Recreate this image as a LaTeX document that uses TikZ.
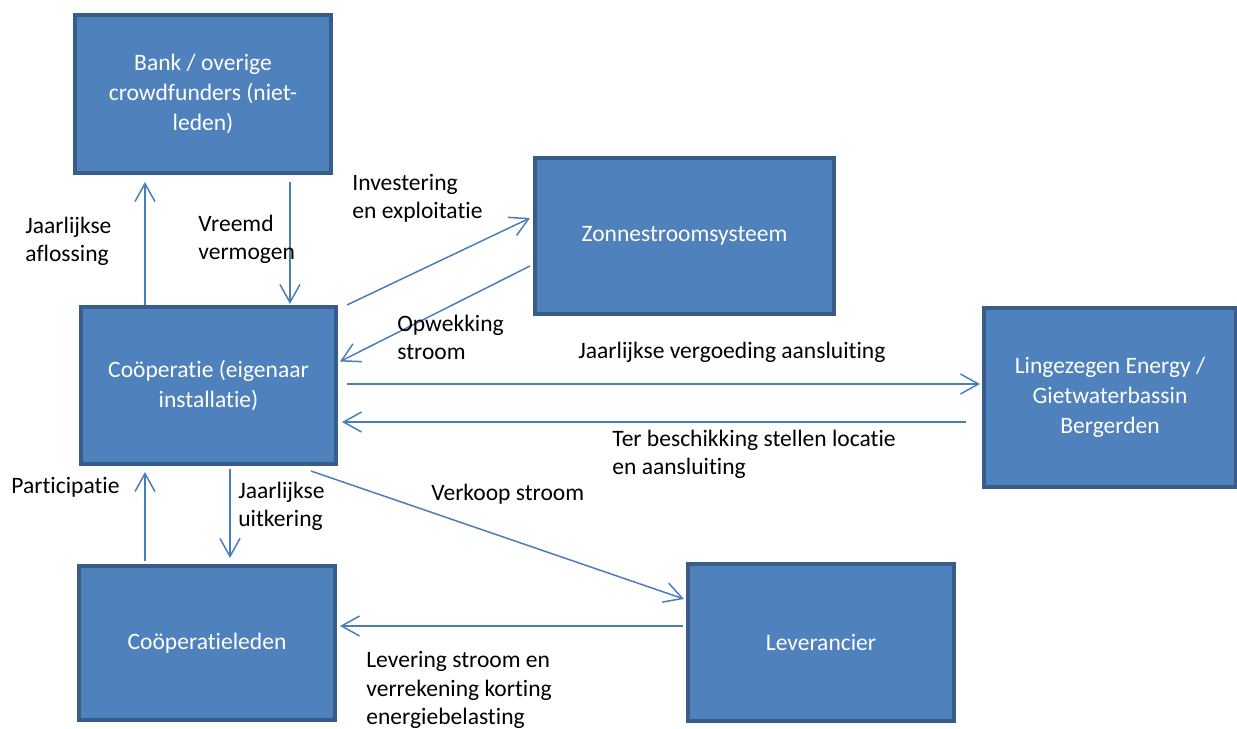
\documentclass[tikz,border=0pt]{standalone}
\usepackage{fontspec}
\setmainfont[Ligatures=NoCommon]{Carlito}
\usepackage{tikz}
\usetikzlibrary{arrows.meta,positioning,calc}
\definecolor{boxfill}{RGB}{79,129,189}
\definecolor{boxline}{RGB}{56,93,138}
\definecolor{flowline}{RGB}{74,126,187}
\tikzstyle{Party}=[shape=rectangle,draw=boxline,fill=boxfill,line width=2.3pt,text=white,align=center,font=\fontsize{13.4}{17}\selectfont]
\tikzstyle{flowedge}=[-{Straight Barb[length=0.36cm,width=0.4cm]},draw=flowline,line width=0.85pt]
\tikzstyle{flowlabel}=[anchor=west,align=left,inner sep=0pt,font=\fontsize{13.4}{16}\selectfont]

\begin{document}
\begin{tikzpicture}[x=0.02cm,y=-0.02cm]
\useasboundingbox (0,0) rectangle (1237,729);

\node[Party,minimum width=256*0.02cm,minimum height=158*0.02cm] (BANK) at (203,94) {Bank / overige\\crowdfunders (niet-\\leden)};
\node[Party,minimum width=255*0.02cm,minimum height=157*0.02cm] (COOP) at (208.5,385.5) {Coöperatie (eigenaar\\installatie)};
\node[Party,minimum width=299*0.02cm,minimum height=156*0.02cm] (ZON) at (684.5,236) {Zonnestroomsysteem};
\node[Party,minimum width=252*0.02cm,minimum height=179*0.02cm] (LING) at (1110,397.5) {Lingezegen Energy /\\Gietwaterbassin\\Bergerden};
\node[Party,minimum width=256*0.02cm,minimum height=154*0.02cm] (LEDEN) at (207,643) {Coöperatieleden};
\node[Party,minimum width=266*0.02cm,minimum height=157*0.02cm] (LEV) at (821,642.5) {Leverancier};

\path
([shift={(66,0)}]COOP.north west) edge [flowedge] ([shift={(72,7)}]BANK.south west)
([shift={(217,7)}]BANK.south west) edge [flowedge] ([shift={(211,-1)}]COOP.north west)
([shift={(9,0)}]COOP.north east) edge [flowedge] ([shift={(-3,-18)}]ZON.west)
([shift={(-3,30)}]ZON.west) edge [flowedge] ([shift={(2,-24)}]COOP.east)
([shift={(9,-1.5)}]COOP.east) edge [flowedge] ([shift={(-2,-13.5)}]LING.west)
([shift={(-16,24.5)}]LING.west) edge [flowedge] ([shift={(4,36.5)}]COOP.east)
([shift={(68,-3)}]LEDEN.north west) edge [flowedge] ([shift={(66,6)}]COOP.south west)
([shift={(151,3)}]COOP.south west) edge [flowedge] ([shift={(153,-6)}]LEDEN.north west)
([shift={(232,5)}]COOP.south west) edge [flowedge] ([shift={(-2,-43.5)}]LEV.west)
([shift={(-3,-16.5)}]LEV.west) edge [flowedge] ([shift={(3,-17)}]LEDEN.east);

\node[flowlabel] (LAFLOS) at (25,241) {Jaarlijkse\\aflossing};
\node[flowlabel] (LVREEMD) at (198,239) {Vreemd\\vermogen};
\node[flowlabel] (LINVEST) at (352,198) {Investering\\en exploitatie};
\node[flowlabel] (LOPWEK) at (397,337) {Opwekking\\stroom};
\node[flowlabel] (LVERG) at (578,352) {Jaarlijkse vergoeding aansluiting};
\node[flowlabel] (LBESCH) at (612,454) {Ter beschikking stellen locatie\\en aansluiting};
\node[flowlabel] (LPART) at (11,487) {Participatie};
\node[flowlabel] (LUITK) at (238,506) {Jaarlijkse\\uitkering};
\node[flowlabel] (LVERK) at (431,494) {Verkoop stroom};
\node[flowlabel] (LLEV) at (366,690) {Levering stroom en\\verrekening korting\\energiebelasting};

\end{tikzpicture}
\end{document}
